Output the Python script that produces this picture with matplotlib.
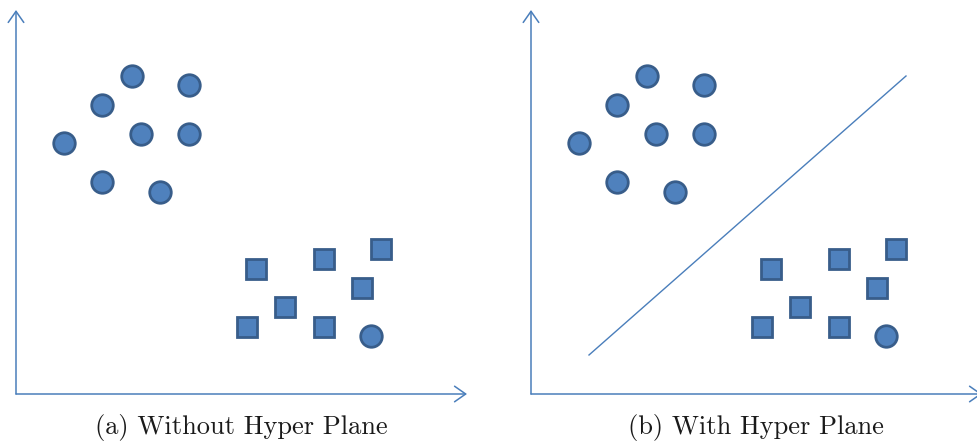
import matplotlib
matplotlib.use("Agg")
import matplotlib.pyplot as plt

# Data (arbitrary units measured from the axis origin)
circle_x = [48, 86, 116, 173, 125, 173, 86, 144]
circle_y = [251, 289, 318, 309, 260, 260, 212, 202]
square_x = [240, 308, 365, 346, 269, 231, 308]
square_y = [125, 135, 145, 106, 87, 67, 67]
outlier_x = [355]
outlier_y = [58]
plane_x = [58, 375]
plane_y = [39, 318]
captions = ["(a) Without Hyper Plane", "(b) With Hyper Plane"]

W, H = 978, 448
fig = plt.figure(figsize=(W / 100, H / 100), dpi=100)

fill = "#4F81BD"
edge = "#385D8A"
line_col = "#4A7EBB"

panel_origins = [16, 531]
ax_w, ax_h = 470, 390
for i, ox in enumerate(panel_origins):
    ax = fig.add_axes([ox / W, (H - 394) / H, ax_w / W, ax_h / H])
    ax.set_xlim(0, ax_w)
    ax.set_ylim(0, ax_h)
    ax.axis("off")
    # axes arrows
    for xy in [(451, 0), (0, 384)]:
        ax.annotate("", xy=xy, xytext=(0, 0),
                    arrowprops=dict(arrowstyle="->,head_length=0.5,head_width=0.35",
                                    color=line_col, lw=1.1, shrinkA=0, shrinkB=0,
                                    mutation_scale=16),
                    annotation_clip=False)
    if i == 1:
        ax.plot(plane_x, plane_y, color=line_col, lw=1.0)
    ax.plot(circle_x + outlier_x, circle_y + outlier_y, "o", ms=15.5,
            mfc=fill, mec=edge, mew=2.0, linestyle="none")
    ax.plot(square_x, square_y, "s", ms=15, mfc=fill, mec=edge, mew=2.0,
            linestyle="none", solid_joinstyle="round")
    fig.text((ox + 225) / W, 1 - 427 / H, captions[i], ha="center", va="center",
             fontsize=19, family="cmr10", color="#1a1a1a")

fig.savefig("out.png", dpi=100)
